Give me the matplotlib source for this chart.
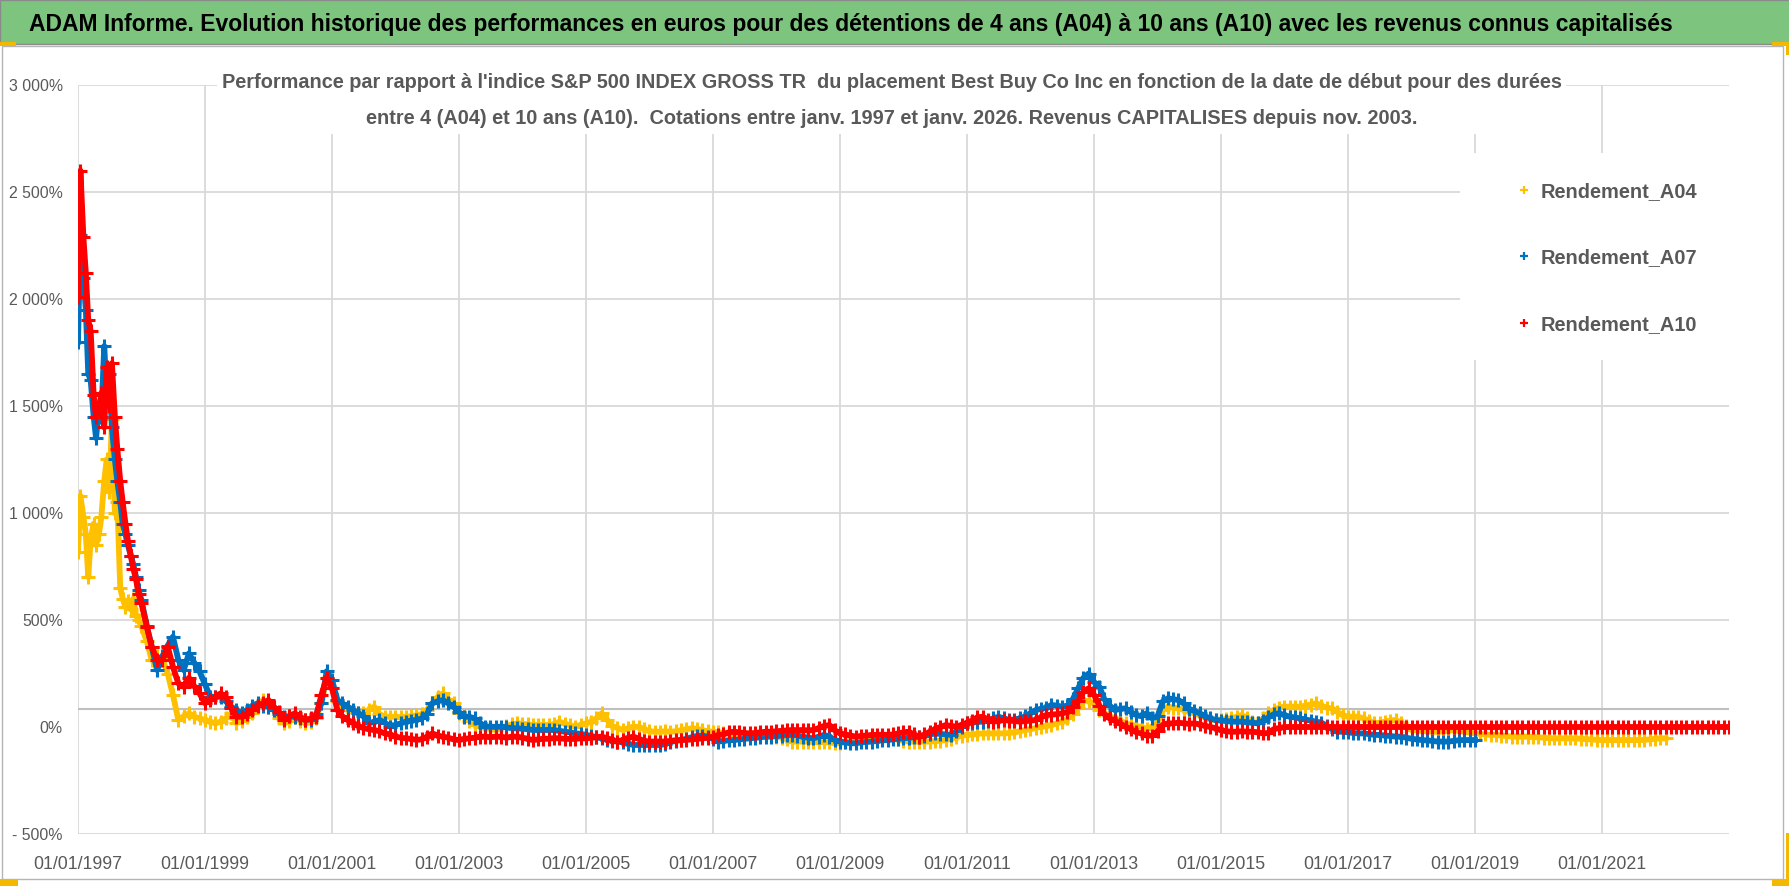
"""Best Buy vs S&P 500 TR: rolling 4/7/10-year relative performance (ADAM chart)."""

import matplotlib

matplotlib.use("Agg")
import matplotlib.pyplot as plt
import pandas as pd
from matplotlib import font_manager
from matplotlib.lines import Line2D
from matplotlib.patches import Rectangle

W, H = 1790, 886

# ---- values (%) ----
# 1997 is sampled on the 1st and 15th of each month, then monthly from Jan 1998
a04_1997 = [820, 1080, 980, 900, 700, 880, 950, 850, 900, 980, 1150, 1250,
            1100, 1440, 1000, 1050, 650, 600, 560, 590, 550, 600, 520, 500]
a07_1997 = [1800, 2300, 2100, 1950, 1650, 1620, 1450, 1350, 1500, 1450, 1780, 1550,
            1650, 1400, 1250, 1150, 1050, 950, 900, 850, 800, 760, 700, 640]
a10_1997 = [2010, 2600, 2290, 2120, 1900, 1850, 1550, 1450, 1480, 1560, 1400, 1680,
            1500, 1700, 1450, 1300, 1150, 1050, 950, 870, 800, 740, 690, 620]

# Jan 1998 -> Jan 2022
a04_monthly = [
    470, 400, 313, 330, 320, 250, 150, 33, 50, 64, 48, 40,
    33, 25, 17, 25, 40, 64, 17, 30, 45, 64, 100, 126,
    95, 79, 40, 17, 30, 48, 30, 17, 25, 40, 110, 230,
    180, 120, 95, 80, 70, 64, 64, 80, 95, 60, 48, 48,
    48, 45, 48, 50, 55, 60, 80, 111, 140, 157, 130, 111,
    64, 50, 30, 10, 2, -5, -10, -14, -5, 5, 12, 17,
    15, 12, 9, 9, 9, 9, 12, 25, 15, 9, 0, 10,
    17, 25, 40, 64, 35, 5, -5, -14, -5, 2, 0, -10,
    -20, -22, -22, -20, -22, -20, -15, -10, -6, -8, -15, -20,
    -22, -25, -28, -30, -35, -40, -45, -42, -38, -37, -37, -40,
    -45, -50, -58, -68, -68, -68, -68, -70, -72, -70, -72, -76,
    -76, -70, -65, -61, -61, -61, -61, -60, -58, -55, -53, -58,
    -65, -68, -68, -68, -68, -68, -66, -64, -61, -55, -48, -40,
    -37, -35, -32, -30, -30, -30, -30, -30, -28, -25, -20, -14,
    -10, -5, 2, 5, 10, 17, 25, 40, 60, 90, 126, 120,
    111, 80, 64, 50, 40, 30, 17, 10, 5, 0, -10, 2,
    20, 80, 95, 90, 87, 80, 70, 64, 55, 45, 35, 33,
    35, 38, 40, 48, 56, 40, 25, 17, 40, 65, 79, 90,
    95, 95, 95, 95, 100, 105, 111, 100, 90, 87, 70, 55,
    48, 48, 48, 40, 30, 17, 20, 25, 30, 33, 20, 5,
    -14, -15, -18, -20, -22, -22, -20, -18, -14, -18, -22, -26,
    -30, -32, -35, -37, -37, -40, -42, -45, -45, -45, -45, -47,
    -48, -50, -52, -53, -53, -53, -53, -53, -55, -57, -58, -60,
    -61, -61, -61, -61, -61, -61, -61, -61, -60, -58, -55, -53,
    -53,
]

# Jan 1998 -> Jan 2019
a07_monthly = [
    593, 470, 375, 266, 330, 380, 422, 313, 266, 344, 300, 260,
    200, 142, 140, 142, 120, 95, 80, 64, 80, 100, 111, 100,
    95, 80, 60, 48, 50, 48, 40, 33, 35, 60, 110, 260,
    220, 126, 110, 95, 80, 64, 50, 17, 25, 33, 20, 2,
    10, 17, 25, 30, 33, 40, 60, 111, 120, 126, 110, 95,
    70, 48, 48, 40, 20, 2, 2, 0, 2, -2, -5, -6,
    -8, -10, -14, -14, -14, -14, -14, -18, -22, -25, -30, -32,
    -37, -42, -48, -53, -60, -65, -68, -72, -78, -84, -84, -84,
    -84, -84, -84, -80, -70, -65, -61, -55, -48, -42, -40, -45,
    -55, -68, -65, -62, -61, -58, -55, -53, -50, -48, -45, -45,
    -42, -40, -37, -37, -40, -45, -50, -53, -45, -37, -45, -60,
    -68, -72, -76, -76, -72, -70, -68, -65, -62, -61, -58, -55,
    -53, -50, -48, -45, -40, -35, -30, -32, -35, -37, -20, 0,
    17, 20, 25, 25, 30, 40, 48, 40, 33, 35, 40, 50,
    65, 79, 85, 90, 103, 100, 95, 100, 130, 180, 230, 250,
    210, 188, 130, 100, 79, 85, 87, 70, 56, 50, 65, 40,
    50, 120, 134, 130, 126, 110, 85, 75, 64, 50, 40, 33,
    30, 28, 25, 25, 25, 22, 20, 17, 30, 45, 60, 64,
    55, 48, 45, 40, 35, 30, 25, 20, 5, -10, -22, -22,
    -25, -28, -30, -30, -33, -37, -37, -40, -42, -45, -45, -50,
    -55, -58, -61, -63, -65, -68, -68, -68, -65, -62, -61, -61,
    -61,
]

# Jan 1998 -> Dec 2015
a10_monthly = [
    578, 469, 375, 313, 313, 375, 282, 204, 188, 230, 190, 157,
    111, 126, 140, 157, 142, 90, 48, 48, 60, 79, 100, 111,
    126, 95, 70, 33, 50, 64, 48, 33, 40, 48, 150, 230,
    180, 79, 50, 33, 20, 5, -5, -10, -14, -20, -30, -35,
    -45, -50, -53, -55, -60, -58, -45, -30, -40, -45, -50, -58,
    -61, -55, -53, -50, -45, -45, -48, -45, -45, -50, -45, -45,
    -50, -55, -61, -58, -55, -55, -52, -53, -55, -56, -55, -53,
    -53, -50, -48, -45, -52, -60, -68, -60, -50, -45, -55, -65,
    -68, -68, -68, -68, -65, -62, -61, -60, -58, -55, -53, -50,
    -45, -37, -35, -25, -22, -25, -28, -30, -28, -25, -22, -22,
    -20, -18, -16, -14, -15, -14, -16, -14, -5, 5, 9, -15,
    -30, -35, -40, -45, -42, -40, -37, -37, -36, -37, -35, -30,
    -25, -22, -35, -45, -35, -22, -10, 0, 9, 5, 2, 10,
    20, 30, 45, 48, 35, 25, 28, 33, 30, 28, 25, 28,
    30, 33, 45, 56, 58, 60, 64, 70, 95, 120, 165, 181,
    150, 100, 60, 40, 30, 15, 2, -10, -25, -30, -40, -40,
    -20, 10, 17, 17, 20, 17, 15, 17, 12, 5, 0, -6,
    -15, -20, -22, -22, -20, -22, -22, -25, -30, -28, -10, -5,
]
# 10-year windows not finished yet (Jan 2016 -> Jan 2023): shown as 0
a10_pending = [0] * 85

series_names = ["Rendement_A04", "Rendement_A07", "Rendement_A10"]
series_colors = ["#FFC000", "#0070C0", "#FF0000"]

y_ticks = [-500, 0, 500, 1000, 1500, 2000, 2500, 3000]
y_tick_labels = ["- 500%", "0%", "500%", "1 000%", "1 500%", "2 000%", "2 500%", "3 000%"]
x_tick_years = list(range(1997, 2022, 2))
axis_cross_level = 83  # the darker horizontal axis line sits a bit above 0%

title = ("ADAM Informe. Evolution historique des performances en euros pour des "
         "détentions de 4 ans (A04) à 10 ans (A10) avec les revenus connus capitalisés")
subtitle_1 = ("Performance par rapport à l'indice S&P 500 INDEX GROSS TR  du placement "
              "Best Buy Co Inc en fonction de la date de début pour des durées")
subtitle_2 = ("entre 4 (A04) et 10 ans (A10).  Cotations entre janv. 1997 et janv. 2026. "
              "Revenus CAPITALISES depuis nov. 2003.")


def build_dates(n_monthly):
    early = pd.date_range("1997-01-01", periods=24, freq="SMS")
    later = pd.date_range("1998-01-01", periods=n_monthly, freq="MS")
    return early.append(later)


def fx(px):
    return px / W


def fy(py):
    return 1 - py / H


available = {f.name for f in font_manager.fontManager.ttflist}
narrow = "Liberation Sans Narrow" in available
FONT = "Liberation Sans Narrow" if narrow else "Liberation Sans"
shrink = 1.0 if narrow else 0.85
plt.rcParams["font.family"] = [FONT, "DejaVu Sans"]

GREY_TXT = "#595959"
GRID = "#d9d9d9"

fig = plt.figure(figsize=(W / 100, H / 100), dpi=100)
fig.patch.set_facecolor("white")

# title band and chart frame
fig.patches.append(Rectangle((0, fy(44)), 1, 44 / H, transform=fig.transFigure,
                             facecolor="#7dc57e", edgecolor="#8a8a8a", lw=1, zorder=-2))
fig.patches.append(Rectangle((fx(2), fy(879)), fx(1781), (879 - 46) / H,
                             transform=fig.transFigure, facecolor="none",
                             edgecolor="#b4b4b4", lw=1, zorder=-2))
for x0, y0, w, h in [(0, 42, 16, 4), (1772, 42, 18, 4), (1786, 42, 4, 13),
                     (1786, 833, 4, 53), (1772, 879, 18, 7), (0, 879, 18, 7)]:
    fig.patches.append(Rectangle((fx(x0), fy(y0 + h)), w / W, h / H,
                                 transform=fig.transFigure, facecolor="#f5b800",
                                 edgecolor="none", zorder=-1))

ax = fig.add_axes([fx(78), fy(834), (1729 - 78) / W, (834 - 85) / H])
ax.set_facecolor("none")

all_values = [
    a04_1997 + a04_monthly,
    a07_1997 + a07_monthly,
    a10_1997 + a10_monthly + a10_pending,
]
for i, (vals, name, color) in enumerate(zip(all_values, series_names, series_colors)):
    dates = build_dates(len(vals) - 24)
    ax.plot(dates, vals, color=color, lw=4.2, marker="+", ms=10, mew=2.2,
            label=name, zorder=3 + i)

ax.set_xlim(pd.Timestamp("1997-01-01"), pd.Timestamp("2023-01-01"))
ax.set_ylim(-500, 3000)

# gridlines (no gridline at 0%, a darker axis line slightly above it)
for v in y_ticks:
    if v != 0:
        ax.axhline(v, color=GRID, lw=1.3, zorder=0.5)
ax.axhline(axis_cross_level, color="#bfbfbf", lw=1.5, zorder=0.6)
x_ticks = [pd.Timestamp(f"{y}-01-01") for y in x_tick_years]
for t in x_ticks:
    ax.axvline(t, color=GRID, lw=1.3, zorder=0.5)

ax.set_xticks(x_ticks)
ax.set_xticklabels([f"01/01/{y}" for y in x_tick_years])
ax.set_yticks(y_ticks)
ax.set_yticklabels(y_tick_labels)
ax.tick_params(axis="x", length=0, pad=16, labelsize=15 * shrink, labelcolor=GREY_TXT)
ax.tick_params(axis="y", length=0, pad=11, labelsize=13.5 * shrink, labelcolor=GREY_TXT)
for s in ax.spines.values():
    s.set_visible(False)

# white boxes behind the subtitle and legend hide the gridlines
ax.add_patch(Rectangle((fx(217), fy(134)), (1566 - 217) / W, (134 - 66) / H,
                       transform=fig.transFigure, facecolor="white",
                       edgecolor="none", zorder=1, clip_on=False))
ax.add_patch(Rectangle((fx(1460), fy(360)), (1729 - 1460) / W, (360 - 153) / H,
                       transform=fig.transFigure, facecolor="white",
                       edgecolor="none", zorder=1, clip_on=False))

renderer = fig.canvas.get_renderer()


def fit_width(txt, target_px):
    w = txt.get_window_extent(renderer=renderer).width
    txt.set_fontsize(txt.get_fontsize() * target_px / w)


t = fig.text(fx(29), fy(24), title, ha="left", va="center", fontsize=20,
             fontweight="bold", color="black")
fit_width(t, 1641)

s1 = fig.text(fx(892), fy(83), subtitle_1, ha="center", va="center", fontsize=16,
              fontweight="bold", color=GREY_TXT, zorder=6)
fit_width(s1, 1335)
fig.text(fx(892), fy(118), subtitle_2, ha="center", va="center",
         fontsize=s1.get_fontsize(), fontweight="bold", color=GREY_TXT, zorder=6)

handles = [Line2D([], [], ls="none", marker="+", color=c, ms=6, mew=1.6)
           for c in series_colors]
leg = ax.legend(handles, series_names, loc="center left",
                bbox_to_anchor=(fx(1500), fy(258)), bbox_transform=fig.transFigure,
                frameon=False, handlelength=0.6, handletextpad=0.5,
                labelspacing=2.35, labelcolor=GREY_TXT,
                prop={"size": 17 * shrink, "weight": "bold"})
leg.set_zorder(7)

fig.savefig("out.png", dpi=100)
plt.close(fig)
